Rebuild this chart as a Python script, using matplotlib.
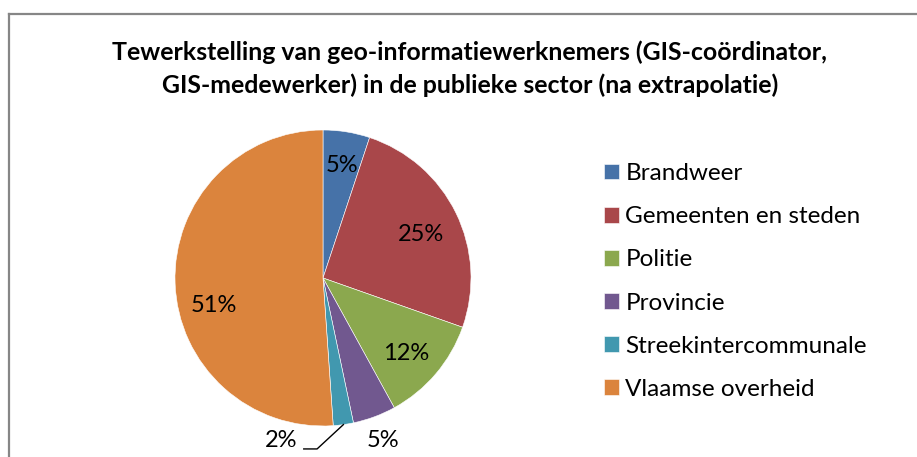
import numpy as np
import matplotlib
matplotlib.use("Agg")
import matplotlib.pyplot as plt
from matplotlib.lines import Line2D

# data (percentages)
sectors = ["Brandweer", "Gemeenten en steden", "Politie", "Provincie",
           "Streekintercommunale", "Vlaamse overheid"]
shares = [5.1, 25.3, 11.6, 4.7, 2.2, 51.1]
colors = ["#4672A8", "#A9474A", "#8BA84E", "#71588F", "#4198AF", "#DB843D"]
title = ("Tewerkstelling van geo-informatiewerknemers (GIS-coördinator,\n"
         "GIS-medewerker) in de publieke sector (na extrapolatie)")

plt.rcParams["font.family"] = ["Lato", "DejaVu Sans"]

W, H = 917, 457
fig = plt.figure(figsize=(W / 100, H / 100), dpi=100)

# chart-area border (left and top only visible in the crop)
fig.add_artist(Line2D([9 / W, 9 / W], [0, 1 - 14 / H], transform=fig.transFigure,
                      color="#868686", lw=1.6))
fig.add_artist(Line2D([9 / W, 1], [1 - 14 / H, 1 - 14 / H], transform=fig.transFigure,
                      color="#868686", lw=1.6))

fig.text(470 / W, 1 - 69 / H, title, ha="center", va="center", fontsize=17.9,
         fontweight="bold", linespacing=1.5)

cx, cy, r = 323, 278, 148
ax = fig.add_axes([(cx - r) / W, (H - cy - r) / H, 2 * r / W, 2 * r / H])
wedges, _ = ax.pie(shares, colors=colors, startangle=90, counterclock=False,
                   wedgeprops=dict(edgecolor="white", linewidth=0.4))
ax.set_xlim(-1, 1)
ax.set_ylim(-1, 1)
ax.set_aspect("equal")
ax.axis("off")

fs = 17
for i, w in enumerate(wedges):
    mid = np.deg2rad((w.theta1 + w.theta2) / 2)
    pct = f"{round(shares[i]):d}%"
    if shares[i] > 10 or i == 0:
        d = 0.74 if i else 0.8
        dy = -0.16 if i == 5 else -0.03
        ax.text(d * np.cos(mid), d * np.sin(mid) + dy, pct, ha="center",
                va="center", fontsize=fs)
    elif i == 3:
        ax.text(1.17 * np.cos(mid), 1.17 * np.sin(mid), pct, ha="center",
                va="center", fontsize=fs)
    else:
        px, py = np.cos(mid), np.sin(mid)
        ex, ey = -0.04, -1.155
        ax.plot([px, ex, ex - 0.09], [py, ey, ey], color="black", lw=1.0,
                clip_on=False)
        ax.text(ex - 0.13, ey + 0.06, pct, ha="right", va="center", fontsize=fs)

fig.legend(wedges, sectors, loc="upper left", bbox_to_anchor=(592 / W, 1 - 151 / H),
           frameon=False, fontsize=17.5, handlelength=0.62, handleheight=0.62,
           handletextpad=0.25, labelspacing=0.91, borderpad=0)

fig.savefig("out.png", dpi=100)
